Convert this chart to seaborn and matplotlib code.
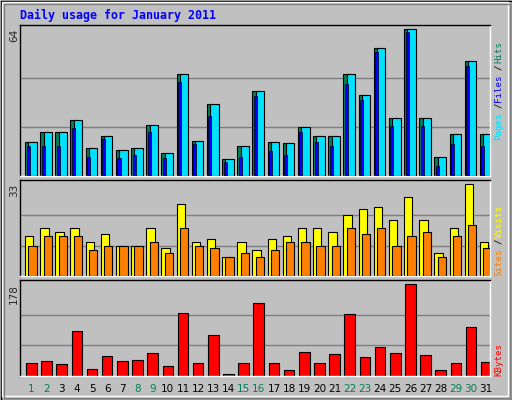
import matplotlib
matplotlib.use("Agg")
import matplotlib.pyplot as plt
import seaborn as sns
import numpy as np
from matplotlib.patches import Rectangle

sns.set_style("white")
plt.rcParams['font.family'] = ['DejaVu Sans Mono', 'DejaVu Sans']

days = list(range(1, 32))
weekend = [1, 2, 8, 9, 15, 16, 22, 23, 29, 30]
hits = [15, 19, 19, 24.5, 12.3, 17.4, 11.3, 12.3, 22.2, 10, 44.5, 15.2, 31.3, 7.4, 13, 37,
        15, 14.4, 21.3, 17.4, 17.4, 44.5, 35.3, 56, 25.2, 64, 25.2, 8.4, 18.3, 50, 18.3]
pages = hits[:]
files = [13, 13, 13, 21, 8.4, 16, 8, 9, 19, 8, 41, 14, 26, 6, 8.4, 35,
         11, 9, 19, 15, 13, 40, 33, 54, 22, 63, 22, 4.5, 14, 48, 13]
visits = [14.4, 17.2, 16, 17.2, 12.2, 15, 11, 11, 17.2, 10, 26, 12.2, 13.3, 7, 12.2, 9.3,
          13.3, 14.4, 17.2, 17.2, 16, 22, 24, 25, 20, 28.3, 20, 8.2, 17.2, 33, 12.2]
sites = [11, 14.4, 14.4, 14.4, 9.3, 11, 11, 11, 12.2, 8.2, 17.2, 11, 10, 7, 8.2, 7,
         9.3, 12.2, 12.2, 11, 11, 17.2, 15, 17.2, 11, 14.4, 16, 7, 14.4, 18.3, 10]
kbytes = [24, 28, 22, 88, 14, 38, 28, 30, 45, 18, 123, 24, 80, 2.5, 24, 141,
          24, 12, 47, 24, 42, 121, 36, 55, 45, 178, 40, 12, 24, 94, 26]

W, H = 512, 400
fig = plt.figure(figsize=(W/100, H/100), dpi=100, facecolor="#C0C0C0")
x = np.arange(len(days))

def mk(top, bot):
    ax = fig.add_axes([20/W, 1-bot/H, 470/W, (bot-top)/H])
    ax.set_facecolor("#C0C0C0")
    ax.set_xlim(-0.5, len(days)-0.5)
    ax.set_xticks([]); ax.set_yticks([])
    for s in ax.spines.values():
        s.set_color("black"); s.set_linewidth(1)
    ax.spines['right'].set_color("white"); ax.spines['bottom'].set_color("white")
    return ax

ek = dict(edgecolor="black", linewidth=0.8, align="edge")

ax1 = mk(24.7, 176)
ax1.set_ylim(0, 66)
for g in (64/3, 128/3):
    ax1.axhline(g, color="#808080", lw=1, zorder=0)
ax1.bar(x-0.17, hits, width=0.53, color="#00805C", **ek, zorder=2)
ax1.bar(x+0.05, pages, width=0.55, color="#00E0FF", **ek, zorder=3)
ax1.bar(x-0.07, files, width=0.2, color="#0000FF", edgecolor="black", linewidth=0.5, align="edge", zorder=4)

ax2 = mk(180.3, 276.3)
ax2.set_ylim(0, 34.4)
for g in (11, 22):
    ax2.axhline(g, color="#808080", lw=1, zorder=0)
ax2.bar(x-0.17, visits, width=0.55, color="#FFFF00", **ek, zorder=2)
ax2.bar(x+0.05, sites, width=0.55, color="#FF8000", **ek, zorder=3)

ax3 = mk(280.3, 375.7)
ax3.set_ylim(0, 185.8)
for g in (178/3, 356/3):
    ax3.axhline(g, color="#808080", lw=1, zorder=0)
ax3.bar(x-0.1, kbytes, width=0.7, color="#FF0000", **ek, zorder=2)

for i, d in enumerate(days):
    ax3.text(i+0.25, -0.14, str(d), transform=ax3.get_xaxis_transform(), ha="center", va="center",
             fontsize=7.5, family="DejaVu Sans", color="#00805C" if d in weekend else "black")

for y, t in ((29, "64"), (184, "33"), (284, "178")):
    fig.text(14/W, 1-y/H, t, rotation=90, ha="center", va="top", fontsize=7.5, family="DejaVu Sans")

def vlabel(ybottom, parts, cw, fs=6.6):
    y = ybottom
    for txt, c in parts:
        fig.text(499/W, 1-y/H, txt, rotation=90, ha="center", va="bottom", fontsize=fs, color=c)
        y -= len(txt)*cw

vlabel(140, [("Pages", "#00E0FF"), ("/", "black"), ("Files", "#0000FF"), ("/", "black"), ("Hits", "#00805C")], 6.4)
vlabel(276, [("Sites", "#FF8000"), ("/", "black"), ("Visits", "#FFFF00")], 6.4)
vlabel(376, [("KBytes", "#FF0000")], 6.0)

fig.text(20/W, 1-15/H, "Daily usage for January 2011", color="#0000FF", fontweight="bold",
         fontsize=8.4, ha="left", va="center")

fig.patches.append(Rectangle((0.5/W, 0.5/H), (W-1)/W, (H-1)/H, transform=fig.transFigure,
                             fill=False, edgecolor="black", lw=1))
fig.patches.append(Rectangle((2/W, 4/H), (W-6)/W, (H-6)/H, transform=fig.transFigure,
                             fill=False, edgecolor="white", lw=1))
fig.patches.append(Rectangle((4/W, 2/H), (W-6)/W, (H-6)/H, transform=fig.transFigure,
                             fill=False, edgecolor="#808080", lw=1))

fig.savefig("out.png", dpi=100, facecolor="#C0C0C0")
